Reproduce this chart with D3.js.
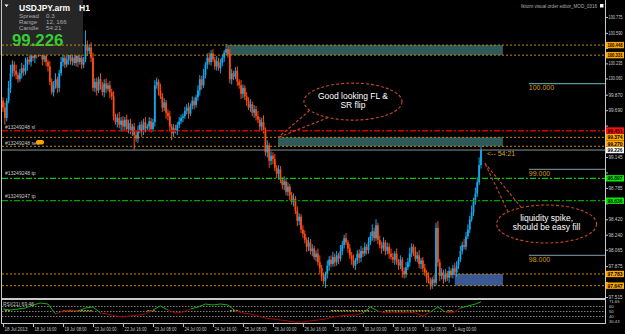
<!DOCTYPE html>
<html>
<head>
<meta charset="utf-8">
<script src="https://cdnjs.cloudflare.com/ajax/libs/d3/7.8.5/d3.min.js"></script>
<style>
body { margin:0; background:#000; }
svg { display:block; font-family:"Liberation Sans", Arial, sans-serif; }
</style>
</head>
<body>
<svg id="chart" width="625" height="334"></svg>
<script>
// USDJPY.arm H1, 18 Jul 2013 00:00 -> 1 Aug 2013 15:00
var firstOpen = 99.80;
var closes = [
  99.72, 99.60, 99.80, 99.95, 100.12, 100.22, 100.15, 100.10,
  100.05, 100.12, 100.18, 100.14, 100.22, 100.28, 100.25, 100.32,
  100.30, 100.38, 100.34, 100.42, 100.36, 100.28, 100.32, 100.25,
  100.20, 100.02, 99.90, 99.98, 100.05, 99.95, 100.12, 100.25,
  100.30, 100.22, 100.28, 100.35, 100.26, 100.30, 100.24, 100.32,
  100.25, 100.30, 100.22, 100.28, 100.45, 100.38, 100.42, 100.30,
  99.95, 100.02, 99.92, 100.05, 99.98, 99.90, 100.00, 99.94,
  99.98, 99.90, 99.85, 99.62, 99.55, 99.60, 99.52, 99.57,
  99.50, 99.58, 99.47, 99.54, 99.45, 99.50, 99.40, 99.36,
  99.45, 99.52, 99.44, 99.55, 99.48, 99.50, 99.56, 99.47,
  99.55, 99.98, 100.02, 99.92, 99.85, 99.72, 99.78, 99.66,
  99.62, 99.50, 99.42, 99.48, 99.45, 99.52, 99.56, 99.60,
  99.62, 99.68, 99.72, 99.65, 99.74, 99.80, 99.75, 99.84,
  99.92, 100.05, 99.98, 100.10, 100.22, 100.30, 100.25, 100.35,
  100.28, 100.20, 100.26, 100.18, 100.24, 100.30, 100.36, 100.40,
  100.34, 100.05, 100.12, 100.08, 100.15, 100.02, 99.98, 99.88,
  99.95, 99.85, 99.80, 99.72, 99.76, 99.66, 99.70, 99.62,
  99.58, 99.50, 99.55, 99.45, 99.20, 99.28, 99.10, 99.16,
  99.12, 99.02, 98.95, 99.00, 98.88, 98.82, 98.86, 98.74,
  98.80, 98.70, 98.62, 98.66, 98.52, 98.40, 98.45, 98.30,
  98.25, 98.18, 98.10, 98.15, 98.05, 98.08, 97.98, 98.02,
  97.92, 97.85, 97.75, 97.70, 97.78, 97.88, 97.95, 97.90,
  97.98, 97.92, 98.00, 97.96, 98.05, 98.12, 98.20, 98.15,
  98.08, 98.00, 97.95, 97.88, 97.94, 98.02, 97.97, 98.05,
  98.02, 98.10, 98.06, 98.15, 98.22, 98.28, 98.20, 98.35,
  98.18, 98.12, 98.08, 98.15, 98.05, 98.10, 98.02, 97.98,
  97.95, 98.02, 97.92, 97.88, 97.95, 97.82, 97.78, 97.86,
  97.92, 98.02, 98.10, 98.05, 97.96, 98.00, 97.90, 97.94,
  97.85, 97.80, 97.74, 97.70, 97.66, 97.72, 97.68, 98.32,
  97.92, 97.76, 97.80, 97.72, 97.78, 97.74, 97.82, 97.77,
  97.85, 97.80, 97.88, 97.95, 98.05, 98.12, 98.10, 98.22,
  98.30, 98.42, 98.50, 98.62, 98.72, 98.85, 99.05, 99.226
];
// wick lengths above / below the body, in 0.01 yen
var upWick = [
  4,6,3,8,10,5,4,7,3,5,6,4,8,3,5,6,
  5,4,7,3,6,8,4,5,3,6,4,5,7,3,4,6,
  3,5,4,6,3,4,7,3,5,4,6,3,17,5,4,6,
  6,4,5,3,7,4,5,6,3,5,4,6,3,5,7,4,
  5,3,6,4,5,3,4,5,6,3,5,4,6,3,5,4,
  4,6,5,3,8,4,5,3,4,6,3,5,4,3,5,4,
  3,5,4,6,3,5,4,3,6,5,4,7,3,5,6,4,
  5,3,6,4,5,4,3,6,4,6,5,3,4,5,3,6,
  4,3,5,4,6,3,5,4,6,3,5,8,4,6,3,5,
  4,6,3,5,4,3,6,4,5,3,4,6,3,5,4,3,
  5,4,3,6,4,5,3,4,6,8,4,5,3,6,4,5,
  6,4,5,3,7,5,4,6,3,5,4,6,3,4,5,6,
  4,5,3,6,5,8,4,7,3,5,4,6,3,5,4,6,
  5,3,6,4,5,3,4,6,5,7,4,3,5,4,6,3,
  4,5,3,6,4,3,5,6,8,4,5,3,6,4,5,3,
  4,6,5,3,6,4,7,5,6,4,8,5,7,6,9,5
];
var downWick = [
  5,8,4,3,6,4,7,5,4,3,6,5,4,7,3,5,
  4,6,5,3,4,7,3,5,6,4,3,5,4,6,5,3,
  5,4,3,6,4,5,3,4,6,3,5,4,3,6,4,5,
  4,5,6,3,5,4,6,5,3,7,4,5,3,6,4,8,
  6,4,3,5,4,6,17,4,5,3,6,4,5,3,6,4,
  3,5,4,6,3,5,4,7,5,6,8,4,3,5,4,3,
  5,3,4,6,3,4,5,3,4,6,5,3,4,5,3,4,
  3,4,5,3,6,4,5,3,4,5,6,4,3,5,4,6,
  5,4,6,3,5,4,6,5,4,6,5,3,4,6,8,5,
  6,4,5,7,4,5,6,4,5,6,3,5,4,6,5,4,
  5,4,6,5,4,6,3,5,4,6,5,4,8,5,6,4,
  3,5,4,6,3,5,4,3,5,4,6,3,5,4,6,5,
  4,3,5,4,3,5,4,3,5,4,6,3,5,4,6,3,
  4,6,3,5,4,8,5,4,3,5,4,6,3,4,5,6,
  5,4,6,3,6,5,4,3,5,6,4,5,3,4,6,3,
  4,3,5,4,3,4,3,4,3,4,3,4,3,4,3,4
];

// RSI(21), read every 4th bar
var rsiBars = [0,4,8,12,16,20,24,28,32,36,40,44,48,52,56,60,64,68,72,76,80,84,88,92,96,100,
  104,108,112,116,120,124,128,132,136,140,144,148,152,156,160,164,168,172,176,180,184,188,
  192,196,200,204,208,212,216,220,224,228,232,236,240,244,248,252,255];
var rsiVals = [55,53,55,57,63,67,65,45,51,53,51,57,59,47,45,41,39,41,43,45,53,61,53,47,49,55,
  59,65,63,65,63,51,47,45,41,37,35,33,31,29,29,31,33,35,39,41,43,43,
  47,59,51,47,49,47,49,47,41,49,59,49,47,57,61,65,69.46];
var rsiFlat = [[1,4],[32,48],[77,81],[121,126],[175,196],[204,228],[237,240]];
var rsiLevels = [60, 50, 40];
var rsiLabels = ["71.65", "60", "50", "40", "30.43"];
var rsiLabelVals = [69.2, 60, 50, 40, 29.5];

var priceTicks = ["100.775","100.590","100.415","100.235","100.060","99.870","99.690","99.510",
  "99.325","99.145","98.965","98.785","98.605","98.420","98.240","98.065","97.875","97.690","97.515"];
var timeBars = [0,16,32,48,64,80,96,112,128,144,160,176,192,208,224,240];
var timeLabels = ["18 Jul 2013","18 Jul 16:00","19 Jul 08:00","22 Jul 00:00","22 Jul 16:00",
  "23 Jul 08:00","24 Jul 00:00","24 Jul 16:00","25 Jul 08:00","26 Jul 00:00","26 Jul 16:00",
  "29 Jul 08:00","30 Jul 00:00","30 Jul 16:00","31 Jul 08:00","1 Aug 00:00"];

// order / zone levels
var entryLines = [100.448, 100.331, 99.374, 99.270, 97.783, 97.647];
var stopLine = 99.451;
var tpLines = [98.897, 98.636];
var tpColors = ["#00c800", "#00a000"];
var bidPrice = 99.226;
var zoneTops = [100.448, 99.374, 97.783];
var zoneBottoms = [100.331, 99.270, 97.647];
var zoneStart = [120, 146.7, 241];
var zoneEnd = 266.7;
var zoneColors = ["#2f5a5a", "#2f5a5a", "#3a5894"];
var roundLevels = [100.0, 99.0, 98.0];
var roundLabels = ["100.000", "99.000", "98.000"];
var orderTexts = ["#13249248 sl", "#13249248 sell", "#13249248 tp", "#13249247 tp"];
var orderTextPrices = [99.47, 99.29, 98.93, 98.665];

var svg = d3.select("#chart");
var W = 625, H = 334;
var axisX = 605;

var x = d3.scaleLinear().domain([0, 255]).range([3, 481]);
var y = d3.scaleLinear().domain([97.515, 100.775]).range([297, 17]);
var ry = d3.scaleLinear().domain([27, 73]).range([323, 300]);

svg.append("rect").attr("width", W).attr("height", H).attr("fill", "#000");

svg.append("defs").append("clipPath").attr("id", "main")
  .append("rect").attr("x", 2).attr("y", 0).attr("width", axisX - 2).attr("height", 298);

var g = svg.append("g").attr("clip-path", "url(#main)");

// zones
zoneTops.forEach(function(t, k) {
  g.append("rect")
    .attr("x", x(zoneStart[k])).attr("y", y(t))
    .attr("width", x(zoneEnd) - x(zoneStart[k]))
    .attr("height", y(zoneBottoms[k]) - y(t))
    .attr("fill", zoneColors[k]);
});

// round number levels on the right
roundLevels.forEach(function(p, k) {
  g.append("line")
    .attr("x1", x(280.5)).attr("x2", axisX).attr("y1", y(p)).attr("y2", y(p))
    .attr("stroke", k == 0 ? "#4f9a9a" : "#6a7f8c").attr("stroke-width", 1.2);
  g.append("text")
    .attr("x", x(280.5)).attr("y", y(p) + 6.5)
    .attr("font-size", 7).attr("fill", "#d99a1e")
    .text(roundLabels[k]);
});

// candles
var bars = closes.map(function(c, i) {
  var o = i == 0 ? firstOpen : closes[i - 1];
  return {
    i: i, o: o, c: c,
    h: Math.max(o, c) + upWick[i] / 100,
    l: Math.min(o, c) - downWick[i] / 100
  };
});

var candle = g.selectAll("g.candle").data(bars).enter().append("g").attr("class", "candle");
candle.append("line")
  .attr("x1", function(d) { return x(d.i); })
  .attr("x2", function(d) { return x(d.i); })
  .attr("y1", function(d) { return y(d.h); })
  .attr("y2", function(d) { return y(d.l); })
  .attr("stroke", function(d) { return d.c >= d.o ? "#13a8f0" : "#ff4a10"; })
  .attr("stroke-width", 1);
candle.append("rect")
  .attr("x", function(d) { return x(d.i) - 0.9; })
  .attr("width", 1.8)
  .attr("y", function(d) { return y(Math.max(d.o, d.c)); })
  .attr("height", function(d) { return Math.max(1, Math.abs(y(d.o) - y(d.c))); })
  .attr("fill", function(d) { return d.c >= d.o ? "#13a8f0" : "#ff4a10"; });

// info panel
svg.append("rect").attr("x", 0).attr("y", 0).attr("width", 83).attr("height", 55).attr("fill", "#262626");
svg.append("path").attr("d", "M4.5,4.5 L8.5,4.5 L6.5,7 Z").attr("fill", "#fff");
svg.append("text").attr("x", 19).attr("y", 11).attr("font-size", 8.5).attr("font-weight", "bold")
  .attr("fill", "#fff").text("USDJPY.arm");
svg.append("text").attr("x", 79).attr("y", 11).attr("font-size", 8.5).attr("font-weight", "bold")
  .attr("fill", "#fff").text("H1");
var infoNames = ["Spread", "Range", "Candle"];
var infoVals = ["0.3", "12, 166", "54:21"];
infoNames.forEach(function(n, k) {
  svg.append("text").attr("x", 19).attr("y", 17.5 + k * 6.2).attr("font-size", 6.2)
    .attr("fill", "#a8a8a8").text(n);
  svg.append("text").attr("x", 46).attr("y", 17.5 + k * 6.2).attr("font-size", 6.2)
    .attr("fill", "#a8a8a8").text(infoVals[k]);
});
svg.append("text").attr("x", 12).attr("y", 46).attr("font-size", 16.8).attr("font-weight", "bold")
  .attr("fill", "#33cc33").text("99.226");

// level lines over everything
var lines = svg.append("g");
entryLines.forEach(function(p) {
  lines.append("line").attr("x1", 2).attr("x2", axisX).attr("y1", y(p)).attr("y2", y(p))
    .attr("stroke", "#c88a00").attr("stroke-dasharray", "2,2");
});
lines.append("line").attr("x1", 2).attr("x2", axisX).attr("y1", y(stopLine)).attr("y2", y(stopLine))
  .attr("stroke", "#d00000").attr("stroke-width", 1.6).attr("stroke-dasharray", "6,2,2,2");
tpLines.forEach(function(p, k) {
  lines.append("line").attr("x1", 2).attr("x2", axisX).attr("y1", y(p)).attr("y2", y(p))
    .attr("stroke", tpColors[k]).attr("stroke-width", 1.3).attr("stroke-dasharray", "6,2,2,2");
});
lines.append("line").attr("x1", 2).attr("x2", axisX).attr("y1", y(bidPrice)).attr("y2", y(bidPrice))
  .attr("stroke", "#8894a0").attr("stroke-width", 1);

orderTexts.forEach(function(t, k) {
  lines.append("text").attr("x", 5).attr("y", y(orderTextPrices[k])).attr("font-size", 5)
    .attr("fill", "#c8c8c8").text(t);
});
lines.append("rect").attr("x", 36).attr("y", y(99.29) - 4.5).attr("width", 8).attr("height", 4.5)
  .attr("rx", 2).attr("fill", "#ffa500");

// callouts
function callout(cx, cy, rx, rr, tip, a1, a2, text) {
  var px = x(cx), py = y(cy);
  var b = svg.append("g");
  [a1, a2].forEach(function(a) {
    b.append("line")
      .attr("x1", px + rx * Math.cos(a)).attr("y1", py + rr * Math.sin(a))
      .attr("x2", x(tip[0])).attr("y2", y(tip[1]))
      .attr("stroke", "#c4472b").attr("stroke-width", 1.1).attr("stroke-dasharray", "3,2");
  });
  b.append("ellipse").attr("cx", px).attr("cy", py).attr("rx", rx).attr("ry", rr)
    .attr("fill", "none").attr("stroke", "#c4472b").attr("stroke-width", 1.1)
    .attr("stroke-dasharray", "3,2");
  text.forEach(function(t, k) {
    b.append("text").attr("x", px).attr("y", py - 3 + k * 9.5).attr("text-anchor", "middle")
      .attr("font-size", 8.5).attr("fill", "#fff").text(t);
  });
}
callout(186.7, 99.79, 49, 18.5, [146.7, 99.372], 2.1, 2.65, ["Good looking FL &", "SR flip"]);
callout(290, 98.365, 50, 19, [257, 99.075], -2.45, -2.1, ["liquidity spike,", "should be easy fill"]);

svg.append("text").attr("x", 487).attr("y", y(bidPrice) + 6).attr("font-size", 7)
  .attr("fill", "#d9a31e").text("<-- 54:21");

svg.append("text").attr("x", 521).attr("y", 8).attr("font-size", 5.5).attr("fill", "#b0b0b0")
  .attr("textLength", 76).attr("lengthAdjust", "spacingAndGlyphs")
  .text("Ikitom visual order editor_MOD_0316");
svg.append("rect").attr("x", 600).attr("y", 4).attr("width", 3.5).attr("height", 3.5).attr("fill", "#fff");

// highlighted level labels, stacked like the terminal does
var tags = [];
entryLines.forEach(function(p) { tags.push({ p: p, c: "#ffa500" }); });
tags.push({ p: stopLine, c: "#ff1010" });
tags.push({ p: tpLines[0], c: "#00ee00" });
tags.push({ p: tpLines[1], c: "#00ee00" });
tags.push({ p: bidPrice, c: "#ffffff" });
tags.sort(function(a, b) { return a.p - b.p; });
var lastY = 1000;
tags.forEach(function(t) {
  t.y = Math.min(y(t.p), lastY - 6.5);
  lastY = t.y;
});

// price axis, labels that sit under a tag are covered by it
var yAxis = d3.axisRight(y)
  .tickValues(priceTicks.map(Number))
  .tickFormat(function(d, i) { return priceTicks[i]; })
  .tickSize(3);
var ya = svg.append("g").attr("transform", "translate(" + axisX + ",0)").call(yAxis);
ya.select(".domain").remove();
ya.selectAll("line").attr("stroke", "#c0c0c0");
ya.selectAll("text").attr("fill", "#c8c8c8").attr("font-size", 4.5).attr("x", 3.5)
  .attr("textLength", 14).attr("lengthAdjust", "spacingAndGlyphs")
  .attr("font-family", "Liberation Sans, Arial, sans-serif")
  .style("display", function(d) {
    var hit = tags.some(function(t) { return Math.abs(t.y - y(d)) < 6; });
    return hit ? "none" : null;
  });

var tg = svg.append("g").selectAll("g").data(tags).enter().append("g");
tg.append("rect").attr("x", axisX + 1).attr("y", function(d) { return d.y - 3.2; })
  .attr("width", 18).attr("height", 6.4).attr("fill", function(d) { return d.c; });
tg.append("text").attr("x", axisX + 2.5).attr("y", function(d) { return d.y + 2; })
  .attr("font-size", 4.8).attr("font-weight", "bold").attr("fill", "#000")
  .attr("textLength", 15).attr("lengthAdjust", "spacingAndGlyphs")
  .text(function(d) { return d.p.toFixed(3); });

// window frames
var frame = svg.append("g").attr("stroke", "#c8c8c8").attr("fill", "none");
frame.append("line").attr("x1", axisX + 0.5).attr("x2", axisX + 0.5).attr("y1", 0).attr("y2", 324);
frame.append("line").attr("x1", 1.5).attr("x2", 1.5).attr("y1", 0).attr("y2", 324);
frame.append("line").attr("x1", 1).attr("x2", axisX).attr("y1", 298.5).attr("y2", 298.5);
frame.append("line").attr("x1", 1).attr("x2", axisX).attr("y1", 299.5).attr("y2", 299.5);
frame.append("line").attr("x1", 1).attr("x2", axisX).attr("y1", 323.5).attr("y2", 323.5);

// RSI sub-window
var rg = svg.append("g");
rsiLevels.forEach(function(v) {
  rg.append("line").attr("x1", 2).attr("x2", axisX).attr("y1", ry(v)).attr("y2", ry(v))
    .attr("stroke", "#a0a0a0").attr("stroke-width", 0.8).attr("stroke-dasharray", "1.5,1.5");
});
rsiFlat.forEach(function(s) {
  rg.append("line").attr("x1", x(s[0])).attr("x2", x(s[1])).attr("y1", ry(51.5)).attr("y2", ry(51.5))
    .attr("stroke", "#d8c820").attr("stroke-width", 1.2).attr("stroke-dasharray", "2,1");
});
for (var k = 1; k < rsiVals.length; k++) {
  var avg = (rsiVals[k] + rsiVals[k - 1]) / 2;
  rg.append("line")
    .attr("x1", x(rsiBars[k - 1])).attr("y1", ry(rsiVals[k - 1]))
    .attr("x2", x(rsiBars[k])).attr("y2", ry(rsiVals[k]))
    .attr("stroke", avg >= 53 ? "#10b010" : "#a80000").attr("stroke-width", 1);
}
rg.append("text").attr("x", 3).attr("y", 305.5).attr("font-size", 5).attr("fill", "#c8c8c8")
  .text("RSI(21) 69.46");
rsiLabels.forEach(function(t, k) {
  rg.append("text").attr("x", 609).attr("y", ry(rsiLabelVals[k]) + 1.5).attr("font-size", 4.2)
    .attr("fill", "#c8c8c8").text(t);
});

// time axis
var xAxis = d3.axisBottom(x)
  .tickValues(timeBars)
  .tickFormat(function(d, i) { return timeLabels[i]; })
  .tickSize(3);
var xa = svg.append("g").attr("transform", "translate(0,324)").call(xAxis);
xa.select(".domain").remove();
xa.selectAll("line").attr("stroke", "#c0c0c0");
xa.selectAll("text").attr("fill", "#c8c8c8").attr("font-size", 5.5).attr("text-anchor", "start")
  .attr("x", 1).attr("dy", "0.2em")
  .attr("textLength", function(d, i) { return i == 0 ? 23 : 22; })
  .attr("lengthAdjust", "spacingAndGlyphs")
  .attr("font-family", "Liberation Sans, Arial, sans-serif");
</script>
</body>
</html>
